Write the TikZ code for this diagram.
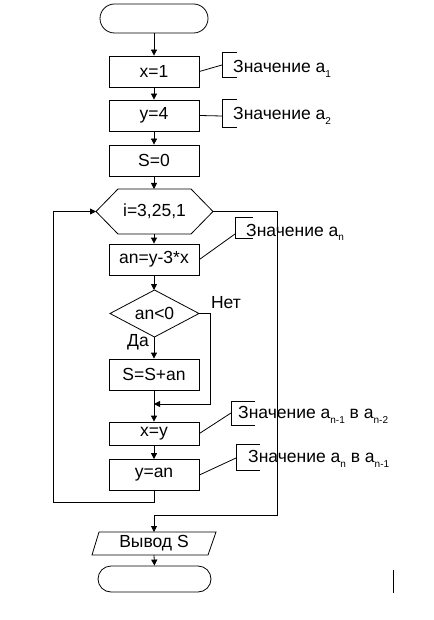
\documentclass[tikz,border=0pt]{standalone}
\usepackage{fontspec}
\setmainfont{Liberation Sans}
\usetikzlibrary{arrows.meta}
\newcommand{\subs}[1]{\raisebox{-5pt}{\fontsize{10}{10}\selectfont #1}}
\tikzset{
  ln/.style={line width=0.8pt},
  arr/.style={ln,-{Triangle[length=6pt,width=6pt]}},
  box/.style={draw,ln,minimum width=90pt,minimum height=31pt,inner sep=0pt,font=\fontsize{17.5}{19}\selectfont},
  term/.style={draw,ln,rounded corners=13pt,inner sep=0pt},
  txt/.style={inner sep=0pt,font=\fontsize{17.5}{19}\selectfont},
  note/.style={inner sep=0pt,anchor=base west,font=\fontsize{17.5}{19}\selectfont},
}
\begin{document}
\begin{tikzpicture}[x=1pt,y=-1pt]
\useasboundingbox (0,0) rectangle (433,620);
% start
\node[term,minimum width=108pt,minimum height=29pt,rounded corners=14.5pt] (start) at (154,18.5) {};
\node[box] (x1) at (154,71.5) {x=1};
\node[box] (y4) at (154,115.5) {y=4};
\node[box] (s0) at (154,160.5) {S=0};
% hexagon
\node[txt] (hex) at (154.5,211.5) {i=3,25,1};
\coordinate (hexL) at (96,211.5);
\coordinate (hexR) at (213,211.5);
\coordinate (hexT) at (154.5,189);
\coordinate (hexB) at (154.5,234);
\draw[ln] (hexL) -- (118,189) -- (191,189) -- (hexR) -- (191,234) -- (118,234) -- cycle;
\node[box] (an) at (154,259.5) {an=y-3*x};
% diamond
\node[txt] (dia) at (154.5,313.5) {an<0};
\coordinate (diaT) at (154.5,290);
\coordinate (diaB) at (154.5,337);
\coordinate (diaL) at (110,313.5);
\coordinate (diaR) at (199,313.5);
\draw[ln] (diaT) -- (diaR) -- (diaB) -- (diaL) -- cycle;
\node[box] (ss) at (154,374.5) {S=S+an};
\node[box,minimum height=23pt] (xy) at (154,433.5) {x=y};
\node[box] (ya) at (154,475) {y=an};
% output parallelogram
\node[txt] (out) at (154,543.5) {Вывод S};
\coordinate (outT) at (154,532);
\coordinate (outB) at (154,555);
\draw[ln] (99,532) -- (216,532) -- (208,555) -- (92,555) -- cycle;
% end
\node[term,minimum width=113pt,minimum height=26pt,rounded corners=13pt] (end) at (154.5,579) {};

% main flow
\draw[arr] (start.south) -- (x1.north);
\draw[arr] (x1.south) -- (y4.north);
\draw[arr] (y4.south) -- (s0.north);
\draw[arr] (s0.south) -- (s0.south |- hexT);
\draw[arr] (hexB -| an.north) -- (an.north);
\draw[arr] (an.south) -- (an.south |- diaT);
\draw[arr] (diaB -| ss.north) -- (ss.north);
\draw[arr] (ss.south) -- (xy.north);
\draw[arr] (xy.south) -- (ya.north);
\node[txt] (da) at (138,342) {Да};
\node[txt] (net) at (226,303) {Нет};
\coordinate (m) at (154,404);
\draw[arr] (diaR) -- (210,313.5) -- (210,404) -- (m);
% loop back
\coordinate (lb) at (53,502);
\draw[arr] (ya.south) -- (154,502) -- (lb) -- (53,211.5) -- (hexL);
% exit
\draw[arr] (hexR) -- (277,211.5) -- (277,515) -- (154,515) -- (outT);
\draw[arr] (outB) -- (end.north);

% annotations
\coordinate (b1) at (222,65);
\draw[ln] (237,52) -- (222,52) -- (222,77) -- (237,77);
\draw[ln] (x1.east) -- (b1);
\node[note] (t1) at (233,73) {Значение a\subs{1}};

\coordinate (b2) at (222,116);
\draw[ln] (237,99) -- (222,99) -- (222,127) -- (237,127);
\draw[ln] (y4.east) -- (b2);
\node[note] (t2) at (233,120) {Значение a\subs{2}};

\coordinate (b3) at (235,234);
\draw[ln] (253,217) -- (235,217) -- (235,238) -- (253,238);
\draw[ln] (an.east) -- (b3);
\node[note] (t3) at (246,236) {Значение a\subs{n}};

\coordinate (b4) at (231,413);
\draw[ln] (255,401) -- (231,401) -- (231,425) -- (255,425);
\draw[ln] (xy.east) -- (b4);
\node[note] (t4) at (238,418) {Значение a\subs{n-1} в a\subs{n-2}};

\coordinate (b5) at (236,458);
\draw[ln] (260,444) -- (236,444) -- (236,470) -- (260,470);
\draw[ln] (ya.east) -- (b5);
\node[note] (t5) at (248,462) {Значение a\subs{n} в a\subs{n-1}};

% stray bar
\draw[ln] (393,570) -- (393,593);
\end{tikzpicture}
\end{document}
